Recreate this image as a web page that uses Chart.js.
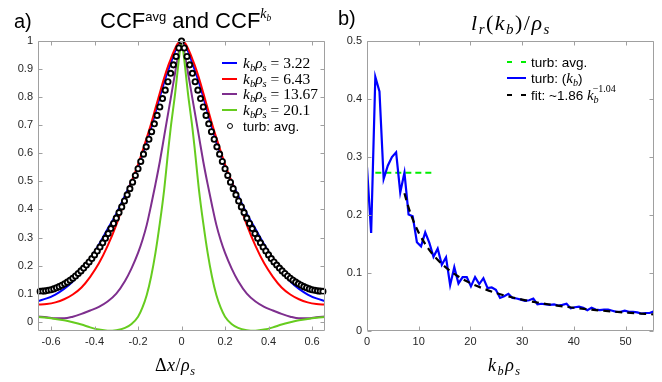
<!DOCTYPE html>
<html>
<head>
<meta charset="utf-8">
<script src="https://cdn.jsdelivr.net/npm/chart.js@4.4.1/dist/chart.umd.min.js"></script>
<style>
  html, body { margin: 0; padding: 0; background: #fff; }
  #wrap { position: relative; width: 662px; height: 382px; overflow: hidden;
          font-family: 'Liberation Sans', Arial, sans-serif; color: #000; }
  canvas { position: absolute; top: 0; }
  .txt { position: absolute; white-space: nowrap; }
  .m { font-family: 'Liberation Serif', 'Times New Roman', serif; font-style: italic; }
  .up { font-style: normal; }
  sub, sup { line-height: 0; position: relative; vertical-align: baseline; }
  sub { font-size: 0.68em; top: 0.3em; }
  sup { font-size: 0.62em; top: -0.62em; }
  .leg { position: absolute; display: flex; align-items: center; height: 16px;
         white-space: nowrap; font-size: 13.5px; }
  .sw { width: 15px; height: 0; border-top: 2px solid; margin-right: 6px; }
  .dash { display: flex; width: 19px; margin-right: 5px; justify-content: space-between; }
  .dash i { display: block; width: 5px; height: 0; border-top: 2px solid; }
  .dot { width: 4px; height: 4px; border: 1.8px solid #000; border-radius: 50%;
         background: #fff; margin: 0 10px 0 5px; }
</style>
</head>
<body>
<div id="wrap">
  <canvas id="ccf" width="331" height="382" style="left:0"></canvas>
  <canvas id="lr" width="331" height="382" style="left:331px"></canvas>

  <!-- panel a -->
  <div class="txt" style="left:14px;top:11px;font-size:20px;line-height:20px">a)</div>
  <div class="txt" style="left:100px;top:10px;font-size:22px;line-height:22px">CCF<sup style="font-size:13px;top:-0.55em">avg</sup> and CCF<sup class="m" style="font-size:14px;top:-0.7em">k<sub>b</sub></sup></div>
  <div class="txt m" style="left:155px;top:353px;font-size:18px;line-height:24px;letter-spacing:0.5px"><span class="up">Δ</span>x<span class="up">/</span>ρ<sub>s</sub></div>

  <div class="leg" style="left:222px;top:55px"><div class="sw" style="color:#0000ff"></div><span class="m" style="font-size:15.5px">k<sub>b</sub>ρ<sub>s</sub><span class="up"> = 3.22</span></span></div>
  <div class="leg" style="left:222px;top:71px"><div class="sw" style="color:#ff0000"></div><span class="m" style="font-size:15.5px">k<sub>b</sub>ρ<sub>s</sub><span class="up"> = 6.43</span></span></div>
  <div class="leg" style="left:222px;top:86px"><div class="sw" style="color:#7e2f8e"></div><span class="m" style="font-size:15.5px">k<sub>b</sub>ρ<sub>s</sub><span class="up"> = 13.67</span></span></div>
  <div class="leg" style="left:222px;top:102px"><div class="sw" style="color:#66cc1f"></div><span class="m" style="font-size:15.5px">k<sub>b</sub>ρ<sub>s</sub><span class="up"> = 20.1</span></span></div>
  <div class="leg" style="left:222px;top:118px"><div class="dot"></div><span>turb: avg.</span></div>

  <!-- panel b -->
  <div class="txt" style="left:338px;top:8px;font-size:20px;line-height:20px">b)</div>
  <div class="txt m" style="left:471px;top:12px;font-size:22px;line-height:22px;letter-spacing:1.5px">l<sub>r</sub><span class="up">(</span>k<sub>b</sub><span class="up">)/</span>ρ<sub>s</sub></div>
  <div class="txt m" style="left:488px;top:353px;font-size:18px;line-height:24px;letter-spacing:1.5px">k<sub>b</sub>ρ<sub>s</sub></div>

  <div class="leg" style="left:507px;top:54px"><div class="dash" style="color:#00ee00"><i></i><i></i></div><span>turb: avg.</span></div>
  <div class="leg" style="left:507px;top:70px"><div class="sw" style="color:#0000ff;width:19px;margin-right:5px"></div><span>turb: (<span class="m" style="font-size:15px">k<sub>b</sub></span>)</span></div>
  <div class="leg" style="left:507px;top:87px"><div class="dash" style="color:#000"><i></i><i></i></div><span>fit: ~1.86 <span class="m" style="font-size:15px">k<sub>b</sub><sup class="up" style="font-size:10px;left:-6px;top:-0.75em">−1.04</sup></span></span></div>
</div>

<script>
// ── panel a: CCF curves ──────────────────────────────────────────────────────
const ccfX = [-0.66,-0.62,-0.58,-0.54,-0.50,-0.46,-0.42,-0.38,-0.34,-0.30,-0.26,-0.23,-0.20,-0.18,-0.16,-0.14,-0.12,-0.10,-0.08,-0.06,-0.05,-0.04,-0.03,-0.02,-0.01,0,
              0.01,0.02,0.03,0.04,0.05,0.06,0.08,0.10,0.12,0.14,0.16,0.18,0.20,0.23,0.26,0.30,0.34,0.38,0.42,0.46,0.50,0.54,0.58,0.62,0.66];
const ccfK322 = [0.074,0.083,0.097,0.117,0.143,0.180,0.225,0.275,0.330,0.385,0.450,0.500,0.550,0.595,0.640,0.690,0.745,0.800,0.852,0.898,0.920,0.942,0.963,0.982,0.995,1.000,
                 0.995,0.982,0.963,0.942,0.920,0.898,0.852,0.800,0.745,0.690,0.640,0.595,0.550,0.500,0.450,0.385,0.330,0.275,0.225,0.180,0.143,0.117,0.097,0.083,0.074];
const ccfK643 = [0.061,0.063,0.069,0.080,0.097,0.122,0.160,0.208,0.270,0.345,0.435,0.500,0.560,0.607,0.655,0.705,0.760,0.815,0.868,0.915,0.935,0.955,0.973,0.988,0.997,1.000,
                 0.997,0.988,0.973,0.955,0.935,0.915,0.868,0.815,0.760,0.705,0.655,0.607,0.560,0.500,0.435,0.345,0.270,0.208,0.160,0.122,0.097,0.080,0.069,0.063,0.061];
const ccfK1367 = [0.019,0.016,0.012,0.012,0.018,0.028,0.040,0.053,0.072,0.100,0.145,0.190,0.245,0.290,0.345,0.415,0.490,0.570,0.660,0.750,0.795,0.840,0.885,0.930,0.970,1.000,
                  0.970,0.930,0.885,0.840,0.795,0.750,0.660,0.570,0.490,0.415,0.345,0.290,0.245,0.190,0.145,0.100,0.072,0.053,0.040,0.028,0.018,0.012,0.012,0.016,0.019];
const ccfK201 = [0.017,0.014,0.010,0.005,-0.002,-0.010,-0.020,-0.028,-0.032,-0.030,-0.022,-0.008,0.018,0.050,0.095,0.160,0.245,0.350,0.470,0.620,0.690,0.750,0.810,0.880,0.950,1.000,
                 0.950,0.880,0.810,0.750,0.690,0.620,0.470,0.350,0.245,0.160,0.095,0.050,0.018,-0.008,-0.022,-0.030,-0.032,-0.028,-0.020,-0.010,-0.002,0.005,0.010,0.014,0.017];

const avgDx = [-0.65,-0.6375,-0.625,-0.6125,-0.6,-0.5875,-0.575,-0.5625,-0.55,-0.5375,-0.525,-0.5125,-0.5,-0.4875,-0.475,-0.4625,-0.45,-0.4375,-0.425,-0.4125,
               -0.4,-0.3875,-0.375,-0.3625,-0.35,-0.3375,-0.325,-0.3125,-0.3,-0.2875,-0.275,-0.2625,-0.25,-0.2375,-0.225,-0.2125,-0.2,-0.1875,-0.175,-0.1625,
               -0.15,-0.1375,-0.125,-0.1125,-0.1,-0.0875,-0.075,-0.0625,-0.05,-0.0375,-0.025,-0.0125,0,
               0.0125,0.025,0.0375,0.05,0.0625,0.075,0.0875,0.1,0.1125,0.125,0.1375,0.15,0.1625,0.175,0.1875,0.2,0.2125,0.225,0.2375,0.25,0.2625,0.275,0.2875,
               0.3,0.3125,0.325,0.3375,0.35,0.3625,0.375,0.3875,0.4,0.4125,0.425,0.4375,0.45,0.4625,0.475,0.4875,0.5,0.5125,0.525,0.5375,0.55,0.5625,0.575,
               0.5875,0.6,0.6125,0.625,0.6375,0.65];
const avgCcf = [0.108,0.109,0.110,0.112,0.114,0.117,0.121,0.125,0.130,0.135,0.141,0.148,0.155,0.163,0.172,0.181,0.191,0.202,0.213,0.225,
                0.238,0.252,0.266,0.281,0.297,0.314,0.332,0.350,0.369,0.389,0.409,0.430,0.452,0.474,0.497,0.521,0.545,0.571,0.597,0.623,
                0.650,0.677,0.705,0.735,0.765,0.795,0.825,0.855,0.885,0.915,0.945,0.975,1.000,
                0.975,0.945,0.915,0.885,0.855,0.825,0.795,0.765,0.735,0.705,0.677,0.650,0.623,0.597,0.571,0.545,0.521,0.497,0.474,0.452,0.430,0.409,0.389,
                0.369,0.350,0.332,0.314,0.297,0.281,0.266,0.252,0.238,0.225,0.213,0.202,0.191,0.181,0.172,0.163,0.155,0.148,0.141,0.135,0.130,0.125,0.121,
                0.117,0.114,0.112,0.110,0.109,0.108];

const ccfXTicks  = [-0.6, -0.4, -0.2, 0, 0.2, 0.4, 0.6];
const ccfXLabels = ['-0.6', '-0.4', '-0.2', '0', '0.2', '0.4', '0.6'];
const ccfYTicks  = [0, 0.1, 0.2, 0.3, 0.4, 0.5, 0.6, 0.7, 0.8, 0.9, 1];
const ccfYLabels = ['0', '0.1', '0.2', '0.3', '0.4', '0.5', '0.6', '0.7', '0.8', '0.9', '1'];

// ── panel b: l_r(k_b)/rho_s ──────────────────────────────────────────────────
const kb = [0,0.80,1.61,2.41,3.22,4.02,4.82,5.63,6.43,7.24,8.04,8.84,9.65,10.45,11.26,12.06,12.86,13.67,14.47,15.28,
            16.08,16.88,17.69,18.49,19.30,20.10,20.90,21.71,22.51,23.32,24.12,24.92,25.73,26.53,27.34,28.14,28.94,29.75,30.55,31.36,
            32.16,32.96,33.77,34.57,35.38,36.18,36.98,37.79,38.59,39.40,40.20,41.00,41.81,42.61,43.42,44.22,45.02,45.83,46.63,47.44,
            48.24,49.04,49.85,50.65,51.46,52.26,53.06,53.87,54.67,55.48];
const lrTurb = [0.282,0.169,0.438,0.413,0.262,0.285,0.300,0.308,0.239,0.273,0.201,0.198,0.153,0.146,0.170,0.152,0.128,0.142,0.114,0.127,
                0.079,0.110,0.082,0.093,0.093,0.077,0.093,0.081,0.091,0.074,0.075,0.071,0.057,0.060,0.064,0.057,0.056,0.054,0.052,0.053,
                0.056,0.046,0.047,0.046,0.045,0.046,0.044,0.045,0.047,0.039,0.041,0.042,0.040,0.036,0.040,0.037,0.036,0.037,0.037,0.035,
                0.033,0.033,0.035,0.033,0.033,0.032,0.030,0.031,0.031,0.034];
const avgKb = [1.61, 12.86];
const lrAvg = [0.273, 0.273];
const fitKb = [7.24, 8, 9, 10, 11, 12, 13, 15, 17.5, 20, 25, 30, 35, 40, 45, 50, 55.48];
const lrFit = [0.2375, 0.214, 0.189, 0.1696, 0.1536, 0.1403, 0.129, 0.1113, 0.0948, 0.0825, 0.0654, 0.0541, 0.0461, 0.0401, 0.0355, 0.0318, 0.0286];

const lrXTicks  = [0, 10, 20, 30, 40, 50];
const lrXLabels = ['0', '10', '20', '30', '40', '50'];
const lrYTicks  = [0, 0.1, 0.2, 0.3, 0.4, 0.5];
const lrYLabels = ['0', '0.1', '0.2', '0.3', '0.4', '0.5'];

// ── shared styling ───────────────────────────────────────────────────────────
const TICK_FONT  = { family: "'Liberation Sans', Arial, sans-serif", size: 11 };
const TICK_COLOR = '#262626';
const BOX_COLOR  = '#a0a0a0';

const pts = (xs, ys) => xs.map((x, i) => ({ x, y: ys[i] }));

// MATLAB-like box with inward tick marks on all four sides
const matlabBox = {
  id: 'matlabBox',
  afterDatasetsDraw(chart) {
    const { ctx, chartArea: a } = chart;
    const sx = chart.scales.x, sy = chart.scales.y;
    const L = Math.round(a.left) + 0.5, R = Math.round(a.right) - 0.5;
    const T = Math.round(a.top) + 0.5,  B = Math.round(a.bottom) - 0.5;
    ctx.save();
    ctx.strokeStyle = BOX_COLOR;
    ctx.lineWidth = 1;
    ctx.beginPath();
    ctx.rect(L, T, R - L, B - T);
    sx.ticks.forEach(t => {
      const p = Math.round(sx.getPixelForValue(t.value)) + 0.5;
      ctx.moveTo(p, B); ctx.lineTo(p, B - 4);
      ctx.moveTo(p, T); ctx.lineTo(p, T + 4);
    });
    sy.ticks.forEach(t => {
      const p = Math.round(sy.getPixelForValue(t.value)) + 0.5;
      ctx.moveTo(L, p); ctx.lineTo(L + 4, p);
      ctx.moveTo(R, p); ctx.lineTo(R - 4, p);
    });
    ctx.stroke();
    ctx.restore();
  },
};

function axis(min, max, values, labels, isX, size) {
  return {
    type: 'linear', min, max,
    grid: { display: false, drawTicks: false, tickLength: 0 }, border: { display: false },
    ticks: {
      font: TICK_FONT, color: TICK_COLOR, padding: isX ? 4 : 5,
      autoSkip: false, maxRotation: 0,
      callback: (v, i) => labels[i],
    },
    afterBuildTicks: s => { s.ticks = values.map(v => ({ value: v })); },
    afterFit: s => { if (isX) s.height = size; else s.width = size; },
  };
}

function makeChart(id, datasets, scales, padding) {
  return new Chart(document.getElementById(id).getContext('2d'), {
    type: 'line',
    data: { datasets },
    options: {
      responsive: false, animation: false, events: [],
      layout: { padding },
      plugins: { legend: { display: false }, tooltip: { enabled: false } },
      scales,
    },
    plugins: [matlabBox],
  });
}

const lineDS = (xs, ys, color, order) => ({
  data: pts(xs, ys), borderColor: color, borderWidth: 2, pointRadius: 0,
  cubicInterpolationMode: 'monotone', order,
});

makeChart('ccf', [
  lineDS(ccfX, ccfK322,  '#0000ff', 4),
  lineDS(ccfX, ccfK643,  '#ff0000', 3),
  lineDS(ccfX, ccfK1367, '#7e2f8e', 2),
  lineDS(ccfX, ccfK201,  '#66cc1f', 1),
  {
    data: pts(avgDx, avgCcf), showLine: false, order: 0, clip: 8,
    pointRadius: 2.6, pointBorderWidth: 1.9, pointBorderColor: '#000', pointBackgroundColor: '#fff',
  },
], {
  x: axis(-0.66, 0.66, ccfXTicks, ccfXLabels, true, 20),
  y: axis(-0.033, 1, ccfYTicks, ccfYLabels, false, 38),
}, { left: 0, top: 41, right: 3, bottom: 31 });

makeChart('lr', [
  { data: pts(avgKb, lrAvg), borderColor: '#00ee00', borderWidth: 2, borderDash: [6, 4], pointRadius: 0, order: 2 },
  { data: pts(kb, lrTurb), borderColor: '#0000ff', borderWidth: 2.2, pointRadius: 0, tension: 0, order: 1 },
  { data: pts(fitKb, lrFit), borderColor: '#000', borderWidth: 2.2, borderDash: [7, 5], pointRadius: 0,
    cubicInterpolationMode: 'monotone', order: 0 },
], {
  x: axis(0, 55.5, lrXTicks, lrXLabels, true, 20),
  y: axis(0, 0.5, lrYTicks, lrYLabels, false, 36),
}, { left: 0, top: 41, right: 8, bottom: 31 });
</script>
</body>
</html>
